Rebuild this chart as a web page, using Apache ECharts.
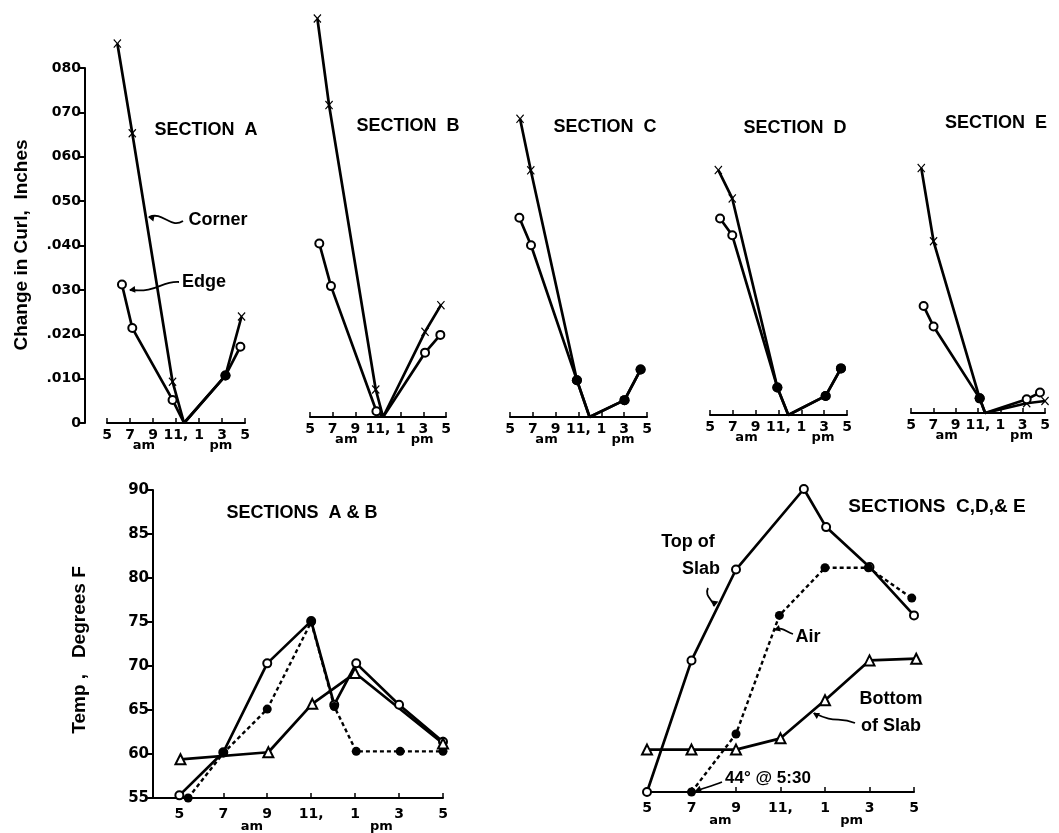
<!DOCTYPE html>
<html>
<head>
<meta charset="utf-8">
<script src="https://cdn.jsdelivr.net/npm/echarts@6/dist/echarts.min.js"></script>
<style>
  html, body { margin: 0; padding: 0; background: #fff; }
  #chart { width: 1059px; height: 833px; }
</style>
</head>
<body>
<div id="chart"></div>
<script>
// time of day in hours (5 am .. 5 pm)
const hours = [5, 7, 9, 11, 13, 15, 17];
const hourLabels = ['5', '7', '9', '11,', '1', '3', '5'];
const ampmTop = [8.2, 14.9];
const ampmBottom = [8.3, 14.2];
const ampmLabels = ['am', 'pm'];

// change in curl, inches
const curlTicks = [0, 0.01, 0.02, 0.03, 0.04, 0.05, 0.06, 0.07, 0.08];
const curlLabels = ['0', '.010', '.020', '030', '.040', '050', '060', '070', '080'];
const tempTicks = [55, 60, 65, 70, 75, 80, 85, 90];

// [hour, inches]
const cornerA = [[5.9, .0855], [7.2, .0653], [10.7, .0093], [11.7, 0], [15.3, .0107], [16.7, .024]];
const edgeA   = [[6.3, .0312], [7.2, .0214], [10.7, .0052], [11.7, 0], [15.3, .0107], [16.6, .0172]];
const cornerB = [[5.65, .0898], [6.68, .0703], [10.8, .0062], [11.45, 0], [15.15, .0192], [16.55, .0252]];
const edgeB   = [[5.82, .0391], [6.85, .0295], [10.86, .0013], [11.45, 0], [15.15, .0145], [16.5, .0185]];
const cornerC = [[5.88, .0672], [6.82, .0556], [10.86, .0083], [11.97, 0], [15.03, .0038], [16.44, .0107]];
const edgeC   = [[5.82, .0449], [6.84, .0387], [10.86, .0083], [11.97, 0], [15.03, .0038], [16.44, .0107]];
const cornerD = [[5.73, .0552], [6.95, .0488], [10.9, .0062], [11.86, 0], [15.13, .0043], [16.47, .0105]];
const edgeD   = [[5.88, .0443], [6.95, .0405], [10.9, .0062], [11.86, 0], [15.13, .0043], [16.47, .0105]];
const cornerE = [[5.92, .0552], [7.02, .0387], [11.15, .0033], [11.64, 0], [15.36, .0022], [17.0, .0027]];
const edgeE   = [[6.13, .0241], [7.02, .0195], [11.15, .0033], [11.64, 0], [15.36, .0031], [16.55, .0046]];

// temperatures, degrees F  [hour, temp]
const topAB    = [[5, 55.3], [7, 60.2], [9, 70.3], [11, 75.1], [12.05, 65.6], [13.05, 70.3], [15, 65.6], [17, 61.4]];
const airAB    = [[5.4, 55], [7, 60.1], [9, 65.1], [11, 75], [12.05, 65.4], [13.05, 60.3], [15.05, 60.3], [17, 60.3]];
const bottomAB = [[5.05, 59.4], [9.05, 60.2], [11.05, 65.7], [13, 69.2], [17, 61.2]];
const topCDE    = [[5, 55], [7, 70.2], [9, 80.7], [12.05, 90], [13.05, 85.6], [15, 81], [17, 75.4]];
const airCDE    = [[7, 55], [9, 61.7], [10.95, 75.4], [13.0, 80.9], [14.95, 80.9], [16.9, 77.4]];
const bottomCDE = [[5, 59.9], [7, 59.9], [9, 59.9], [11, 61.2], [13, 65.6], [15, 70.2], [17.1, 70.4]];

const FONT = 'DejaVu Sans';
const TFONT = 'Liberation Sans';
const xMark = 'path://M0,1L1,0L5,4L9,0L10,1L6,5L10,9L9,10L5,6L1,10L0,9L4,5Z';

const grids = [
  {left: 107, top: 68, width: 138, height: 355},
  {left: 310, top: 62, width: 136, height: 355},
  {left: 510, top: 62, width: 137, height: 355},
  {left: 710, top: 60, width: 137, height: 355},
  {left: 911, top: 58, width: 134, height: 355},
  {left: 153, top: 490, width: 290, height: 308},
  {left: 647, top: 489, width: 267, height: 303}
];

const xAxes = [];
const yAxes = [];
const series = [];

function hourAxis(gi, min, max) {
  xAxes.push({
    type: 'value', gridIndex: gi, min: min, max: max,
    splitLine: {show: false},
    axisLine: {show: true, lineStyle: {color: '#000', width: 2}},
    axisTick: {show: true, inside: true, length: 5, customValues: hours, lineStyle: {color: '#000', width: 1.5}},
    axisLabel: {
      customValues: hours, margin: gi < 5 ? 5 : 9,
      color: '#000', fontFamily: FONT, fontWeight: 'bold', fontSize: 14,
      formatter: v => hourLabels[hours.indexOf(v)]
    }
  });
  const ap = gi < 5 ? ampmTop : ampmBottom;
  xAxes.push({
    type: 'value', gridIndex: gi, min: min, max: max, position: 'bottom',
    offset: gi < 5 ? 12 : 18,
    splitLine: {show: false}, axisLine: {show: false}, axisTick: {show: false},
    axisLabel: {
      customValues: ap, margin: 4,
      color: '#000', fontFamily: FONT, fontWeight: 'bold', fontSize: 13,
      formatter: v => ampmLabels[ap.indexOf(v)]
    }
  });
}

function curlAxis(gi, show) {
  yAxes.push({
    type: 'value', gridIndex: gi, min: 0, max: 0.08, show: show, offset: 22,
    splitLine: {show: false},
    axisLine: {show: true, lineStyle: {color: '#000', width: 2}},
    axisTick: {show: true, length: 6, customValues: curlTicks, lineStyle: {color: '#000', width: 2}},
    axisLabel: {
      customValues: curlTicks, margin: 4,
      color: '#000', fontFamily: FONT, fontWeight: 'bold', fontSize: 14,
      formatter: v => curlLabels[Math.round(v / 0.01)]
    }
  });
}

function tempAxis(gi, show) {
  yAxes.push({
    type: 'value', gridIndex: gi, min: 55, max: 90, show: show,
    splitLine: {show: false},
    axisLine: {show: true, lineStyle: {color: '#000', width: 2}},
    axisTick: {show: true, length: 6, customValues: tempTicks, lineStyle: {color: '#000', width: 2}},
    axisLabel: {
      customValues: tempTicks, margin: 4,
      color: '#000', fontFamily: FONT, fontWeight: 'bold', fontSize: 15
    }
  });
}

function line(gi, data, opts) {
  series.push(Object.assign({
    type: 'line', xAxisIndex: gi * 2, yAxisIndex: gi,
    data: data, clip: false, showAllSymbol: true, animation: false,
    symbolSize: 7, z: 3,
    itemStyle: {color: '#000'},
    lineStyle: {color: '#000', width: 2.7}
  }, opts));
}

// points where corner and edge meet are drawn as filled dots
function curlSection(gi, corner, edge) {
  const same = (p, other) => other.some(q => q[0] === p[0] && q[1] === p[1]);
  const mark = (p, other, sym, size) => {
    if (p[1] === 0) return {value: p, symbol: 'none'};
    if (same(p, other)) return {value: p, symbol: 'circle', symbolSize: 10};
    return {value: p, symbol: sym, symbolSize: size};
  };
  line(gi, corner.map(p => mark(p, edge, xMark, [8, 9])), {name: 'Corner'});
  line(gi, edge.map(p => mark(p, corner, 'emptyCircle', 8)), {name: 'Edge'});
}

for (let gi = 0; gi < 5; gi++) {
  hourAxis(gi, 5, 17);
  curlAxis(gi, gi === 0);
}
curlSection(0, cornerA, edgeA);
curlSection(1, cornerB, edgeB);
curlSection(2, cornerC, edgeC);
curlSection(3, cornerD, edgeD);
curlSection(4, cornerE, edgeE);

hourAxis(5, 3.8, 17);
tempAxis(5, true);
hourAxis(6, 5, 17);
tempAxis(6, false);

[[5, topAB, airAB, bottomAB], [6, topCDE, airCDE, bottomCDE]].forEach(([gi, top, air, bottom]) => {
  line(gi, top, {name: 'Top of Slab', symbol: 'emptyCircle', symbolSize: 8});
  line(gi, air, {name: 'Air', symbol: 'circle', symbolSize: 9, lineStyle: {color: '#000', width: 2.4, type: [4, 3]}});
  line(gi, bottom, {name: 'Bottom of Slab', symbol: 'emptyTriangle', symbolSize: 10});
});

function label(text, x, y, size, extra) {
  return Object.assign({
    type: 'text', x: x, y: y, z: 10,
    style: {text: text, fill: '#000', font: 'bold ' + (size || 15) + 'px "' + TFONT + '"', align: 'center', verticalAlign: 'middle'}
  }, extra || {});
}
function squiggle(x1, y1, c1x, c1y, c2x, c2y, x2, y2) {
  return {
    type: 'bezierCurve', z: 10,
    shape: {x1: x1, y1: y1, cpx1: c1x, cpy1: c1y, cpx2: c2x, cpy2: c2y, x2: x2, y2: y2},
    style: {stroke: '#000', lineWidth: 1.8, fill: null}
  };
}
function head(x, y, ang) {
  const a1 = ang + 0.5, a2 = ang - 0.5, l = 7;
  return {
    type: 'polygon', z: 10,
    shape: {points: [[x, y], [x + l * Math.cos(a1), y + l * Math.sin(a1)], [x + l * Math.cos(a2), y + l * Math.sin(a2)]]},
    style: {fill: '#000'}
  };
}

const graphics = [
  label('SECTION  A', 206, 130, 18),
  label('SECTION  B', 408, 126, 18),
  label('SECTION  C', 605, 127, 18),
  label('SECTION  D', 795, 128, 18),
  label('SECTION  E', 996, 123, 18),
  label('SECTIONS  A & B', 302, 513, 18),
  label('SECTIONS  C,D,& E', 937, 507, 19),
  label('Change in Curl,  Inches', 22, 245, 19, {rotation: Math.PI / 2}),
  label('Temp ,   Degrees F', 80, 650, 19, {rotation: Math.PI / 2}),
  label('Corner', 218, 220, 18),
  squiggle(183, 221, 170, 229, 163, 211, 149, 217), head(148, 217, 0.2),
  label('Edge', 204, 282, 18),
  squiggle(179, 282, 160, 281, 158, 293, 130, 290), head(129, 290, -0.1),
  label('Top of', 688, 542, 18),
  label('Slab', 701, 569, 18),
  squiggle(708, 588, 704, 596, 713, 600, 714, 606), head(714, 607, -1.4),
  label('Air', 808, 637, 18),
  squiggle(793, 634, 786, 632, 782, 626, 775, 630), head(774, 630, -0.3),
  label('Bottom', 891, 699, 18),
  label('of Slab', 891, 726, 18),
  squiggle(855, 723, 838, 716, 836, 724, 814, 713), head(813, 713, 0.5),
  label('44\u00b0 @ 5:30', 768, 778, 17),
  squiggle(722, 782, 712, 786, 704, 788, 696, 791), head(695, 791, -0.35)
];

const chart = echarts.init(document.getElementById('chart'), null, {renderer: 'canvas'});
chart.setOption({
  backgroundColor: '#fff',
  animation: false,
  grid: grids.map(g => Object.assign({outerBoundsMode: 'none', containLabel: false}, g)),
  xAxis: xAxes,
  yAxis: yAxes,
  series: series,
  graphic: graphics
});
</script>
</body>
</html>
